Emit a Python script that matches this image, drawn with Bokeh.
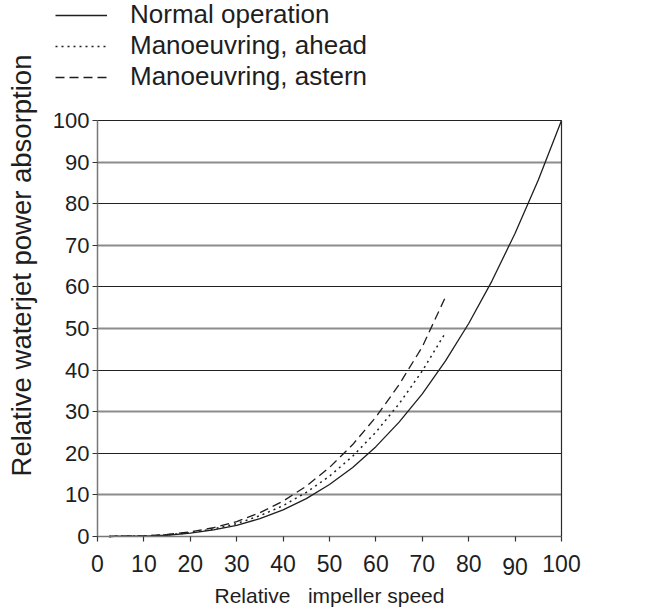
import numpy as np
from bokeh.plotting import figure
from bokeh.models import Range1d, FixedTicker, Grid, Legend, LegendItem, Label, LinearAxis
from bokeh.embed import file_html
from bokeh.resources import INLINE

# ---- data ----
speed_normal = [2.5, 5, 10, 15, 20, 25, 30, 35, 40, 45, 50, 55, 60, 65, 70, 75, 80, 85, 90, 95, 100]
power_normal = [0.0, 0.1, 0.1, 0.3, 0.8, 1.6, 2.7, 4.3, 6.4, 9.1, 12.5, 16.6, 21.6, 27.5, 34.3, 42.2,
                51.2, 61.4, 72.9, 85.7, 100.0]
speed_manoeuvring = [2.5, 5, 10, 15, 20, 25, 30, 35, 40, 45, 50, 55, 60, 65, 70, 75]
power_ahead = [0.0, 0.1, 0.1, 0.4, 0.9, 1.8, 3.1, 5.0, 7.4, 10.6, 14.5, 19.3, 25.1, 31.9, 39.8, 49.0]
power_astern = [0.0, 0.1, 0.2, 0.5, 1.1, 2.1, 3.6, 5.7, 8.5, 12.1, 16.6, 22.1, 28.7, 36.5, 45.6, 57.6]

x_ticks = [0, 10, 20, 30, 40, 50, 60, 70, 80, 90, 100]
y_ticks = [0, 10, 20, 30, 40, 50, 60, 70, 80, 90, 100]
grid_dark = [20, 40, 60, 80, 100]
grid_light = [10, 30, 50, 70, 90]
axis_bounds = (0, 100)
low_tick = 90          # this x tick label sits a little lower in the reference

labels = ["Normal operation", "Manoeuvring, ahead", "Manoeuvring, astern"]
x_title = "Relative\u00a0\u00a0 impeller speed"
y_title = "Relative waterjet power absorption"

INK = "#1e1e1e"
FONT = "Liberation Sans"

W, H = 657, 609
# plot box in pixels: x 0..100 -> 97..561, y 0..100 -> 536..120
X0, XS = 97.0, 4.64
Y0, YS = 536.0, 4.16

p = figure(width=W, height=H, output_backend="svg", toolbar_location=None,
           x_range=Range1d(-X0 / XS, (W - X0) / XS),
           y_range=Range1d(-(H - Y0) / YS, Y0 / YS),
           min_border_left=0, min_border_right=0, min_border_top=0, min_border_bottom=0,
           x_axis_location=None, y_axis_location=None)
p.background_fill_color = "white"
p.border_fill_color = "white"
p.outline_line_color = None
p.xgrid.visible = False
p.ygrid.visible = False

# horizontal grid lines limited to the plot box
has_cross = "cross_bounds" in Grid.properties()
if has_cross:
    p.add_layout(Grid(dimension=1, ticker=FixedTicker(ticks=grid_light), cross_bounds=axis_bounds,
                      grid_line_color="#8c8c8c", grid_line_width=2))
    p.add_layout(Grid(dimension=1, ticker=FixedTicker(ticks=grid_dark), cross_bounds=axis_bounds,
                      grid_line_color="#222222", grid_line_width=1.2))
else:
    p.segment(x0=axis_bounds[0], x1=axis_bounds[1], y0=grid_light, y1=grid_light,
              line_color="#8c8c8c", line_width=2)
    p.segment(x0=axis_bounds[0], x1=axis_bounds[1], y0=grid_dark, y1=grid_dark,
              line_color="#222222", line_width=1.2)


def style_axis(ax, size):
    ax.axis_line_width = 1.5
    ax.major_tick_line_color = "#333333"
    ax.major_tick_line_width = 1.2
    ax.major_tick_out = 5
    ax.major_tick_in = 0
    ax.minor_tick_line_color = None
    ax.major_label_text_font = FONT
    ax.major_label_text_font_size = size
    ax.major_label_text_color = INK


XLAB_STANDOFF = 9
xaxis = LinearAxis(fixed_location=0, bounds=axis_bounds, ticker=FixedTicker(ticks=x_ticks))
style_axis(xaxis, "23px")
xaxis.axis_line_color = "#777777"
xaxis.major_label_standoff = XLAB_STANDOFF
xaxis.major_label_overrides = {low_tick: " "}
xaxis.axis_label = x_title
xaxis.axis_label_text_font = FONT
xaxis.axis_label_text_font_size = "21px"
xaxis.axis_label_text_font_style = "normal"
xaxis.axis_label_text_color = INK
xaxis.axis_label_standoff = 4
p.add_layout(xaxis, "below")

# the slightly lowered "90" label
p.add_layout(Label(x=low_tick, y=0, y_units="data", text=str(low_tick),
                   y_offset=-(5 + XLAB_STANDOFF + 7), text_align="center", text_baseline="top",
                   text_font=FONT, text_font_size="23px", text_color=INK))

yaxis = LinearAxis(fixed_location=0, bounds=axis_bounds, ticker=FixedTicker(ticks=y_ticks))
style_axis(yaxis, "22px")
yaxis.axis_line_color = "#777777"
yaxis.major_label_standoff = 3
p.add_layout(yaxis, "left")

# right border of the plot box
raxis = LinearAxis(fixed_location=100, bounds=axis_bounds, ticker=FixedTicker(ticks=[]))
raxis.axis_line_color = "#2a2a2a"
raxis.axis_line_width = 1.2
raxis.major_tick_line_color = None
raxis.minor_tick_line_color = None
p.add_layout(raxis, "right")

# curves
r_normal = p.line(speed_normal, power_normal, line_color=INK, line_width=1.3)
r_ahead = p.line(speed_manoeuvring, power_ahead, line_color=INK, line_width=1.5, line_dash="2 4")
r_astern = p.line(speed_manoeuvring, power_astern, line_color=INK, line_width=1.3, line_dash="9 5")

# y title
p.add_layout(Label(x=(21 - X0) / XS, y=(Y0 - 265) / YS, text=y_title, angle=np.pi / 2,
                   text_align="center", text_baseline="middle",
                   text_font=FONT, text_font_size="27.5px", text_color=INK))

legend = Legend(items=[LegendItem(label=labels[0], renderers=[r_normal]),
                       LegendItem(label=labels[1], renderers=[r_ahead]),
                       LegendItem(label=labels[2], renderers=[r_astern])],
                location=(55, H - 3 - 86 - 3), glyph_width=52, glyph_height=28, label_height=28,
                label_standoff=23, padding=0, margin=0, spacing=-4,
                border_line_color=None, background_fill_alpha=0,
                label_text_font=FONT, label_text_font_size="26px", label_text_color=INK)
p.add_layout(legend)

open("out.html", "w").write(file_html(p, INLINE))
